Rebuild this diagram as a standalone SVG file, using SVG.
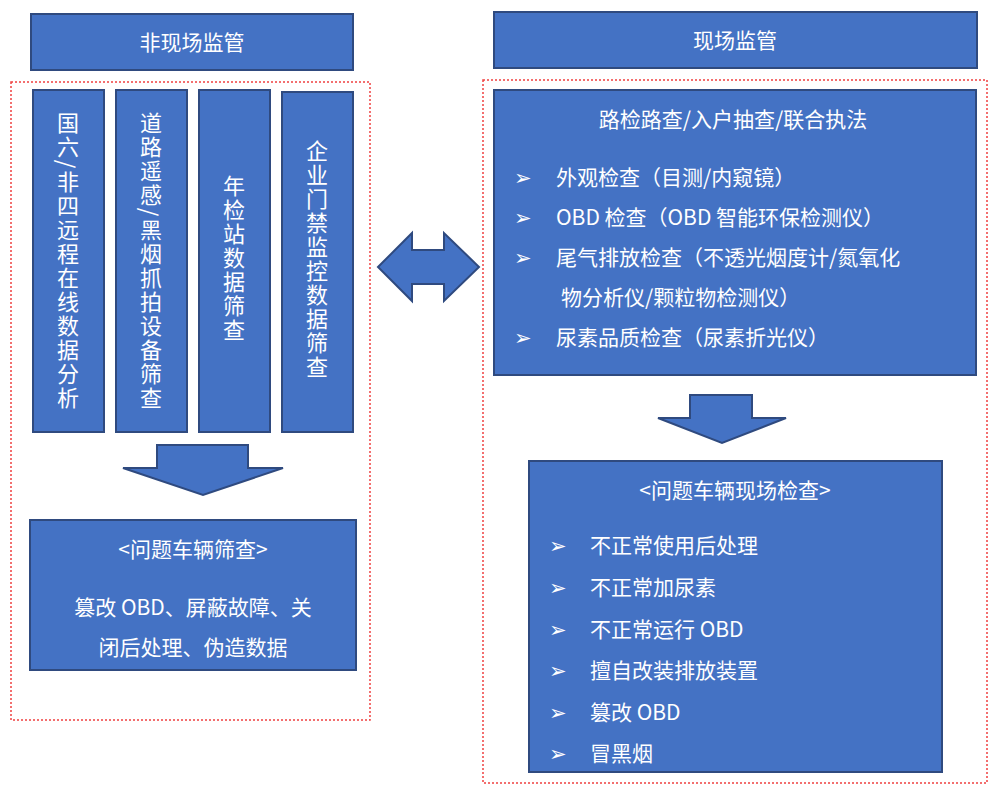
<svg xmlns="http://www.w3.org/2000/svg" width="1000" height="793" viewBox="0 0 1000 793">
<style>
.box{fill:#4472C4;stroke:#2F4A7F;stroke-width:2}
.dash{fill:none;stroke:#F04040;stroke-width:1.5;stroke-dasharray:2 2}
text{font-family:"Noto Sans CJK SC","Liberation Sans",sans-serif;fill:#fff;font-size:21px}
.v{writing-mode:vertical-rl;text-anchor:middle;letter-spacing:2px;font-size:22px}
.m{text-anchor:middle}
</style>
<rect width="1000" height="793" fill="#fff"/>
<g id="dashed">
<rect class="dash" x="11" y="82" width="359" height="638"/>
<rect class="dash" x="483" y="80" width="504" height="703"/>
</g>
<g id="n-left-title"><rect class="box" x="31" y="14" width="322" height="56"/><text class="m" x="192" y="50">非现场监管</text></g>
<g id="n-right-title"><rect class="box" x="494" y="12" width="483" height="56"/><text class="m" x="735" y="48">现场监管</text></g>
<g id="n-c1"><rect class="box" x="33" y="90" width="71" height="342"/><text class="v" x="68" y="261">国六/非四远程在线数据分析</text></g>
<g id="n-c2"><rect class="box" x="116" y="90" width="71" height="342"/><text class="v" x="151" y="261">道路遥感/黑烟抓拍设备筛查</text></g>
<g id="n-c3"><rect class="box" x="199" y="90" width="71" height="342"/><text class="v" x="234" y="259">年检站数据筛查</text></g>
<g id="n-c4"><rect class="box" x="282" y="92" width="71" height="340"/><text class="v" x="317" y="260">企业门禁监控数据筛查</text></g>
<g id="n-left-bottom"><rect class="box" x="30" y="520" width="326" height="150"/>
<text class="m" x="193" y="557">&lt;问题车辆筛查&gt;</text>
<text class="m" x="193" y="615">篡改 OBD、屏蔽故障、关</text>
<text class="m" x="193" y="655">闭后处理、伪造数据</text></g>
<g id="n-right-top"><rect class="box" x="494" y="90" width="482" height="285"/>
<text class="m" x="733" y="127">路检路查/入户抽查/联合执法</text>
<text x="514" y="185">➢</text><text x="556" y="185">外观检查（目测/内窥镜）</text>
<text x="514" y="225">➢</text><text x="556" y="225">OBD 检查（OBD 智能环保检测仪）</text>
<text x="514" y="265">➢</text><text x="556" y="265">尾气排放检查（不透光烟度计/氮氧化</text>
<text x="561" y="305">物分析仪/颗粒物检测仪）</text>
<text x="514" y="345">➢</text><text x="556" y="345">尿素品质检查（尿素折光仪）</text></g>
<g id="n-right-bottom"><rect class="box" x="529" y="461" width="413" height="311"/>
<text class="m" x="735" y="498">&lt;问题车辆现场检查&gt;</text>
<text x="549" y="553">➢</text><text x="590" y="553">不正常使用后处理</text>
<text x="549" y="595">➢</text><text x="590" y="595">不正常加尿素</text>
<text x="549" y="637">➢</text><text x="590" y="637">不正常运行 OBD</text>
<text x="549" y="678">➢</text><text x="590" y="678">擅自改装排放装置</text>
<text x="549" y="720">➢</text><text x="590" y="720">篡改 OBD</text>
<text x="549" y="761">➢</text><text x="590" y="761">冒黑烟</text></g>
<g id="connectors">
<path class="box" d="M378 267 L412 233 L412 250 L444 250 L444 233 L479 267 L444 301 L444 284 L412 284 L412 301 Z"/>
<path class="box" d="M157 445 L248 445 L248 468 L283 468 L203 495 L123 468 L157 468 Z"/>
<path class="box" d="M690 395 L752 395 L752 418 L786 418 L722 443 L658 418 L690 418 Z"/>
</g>
</svg>
